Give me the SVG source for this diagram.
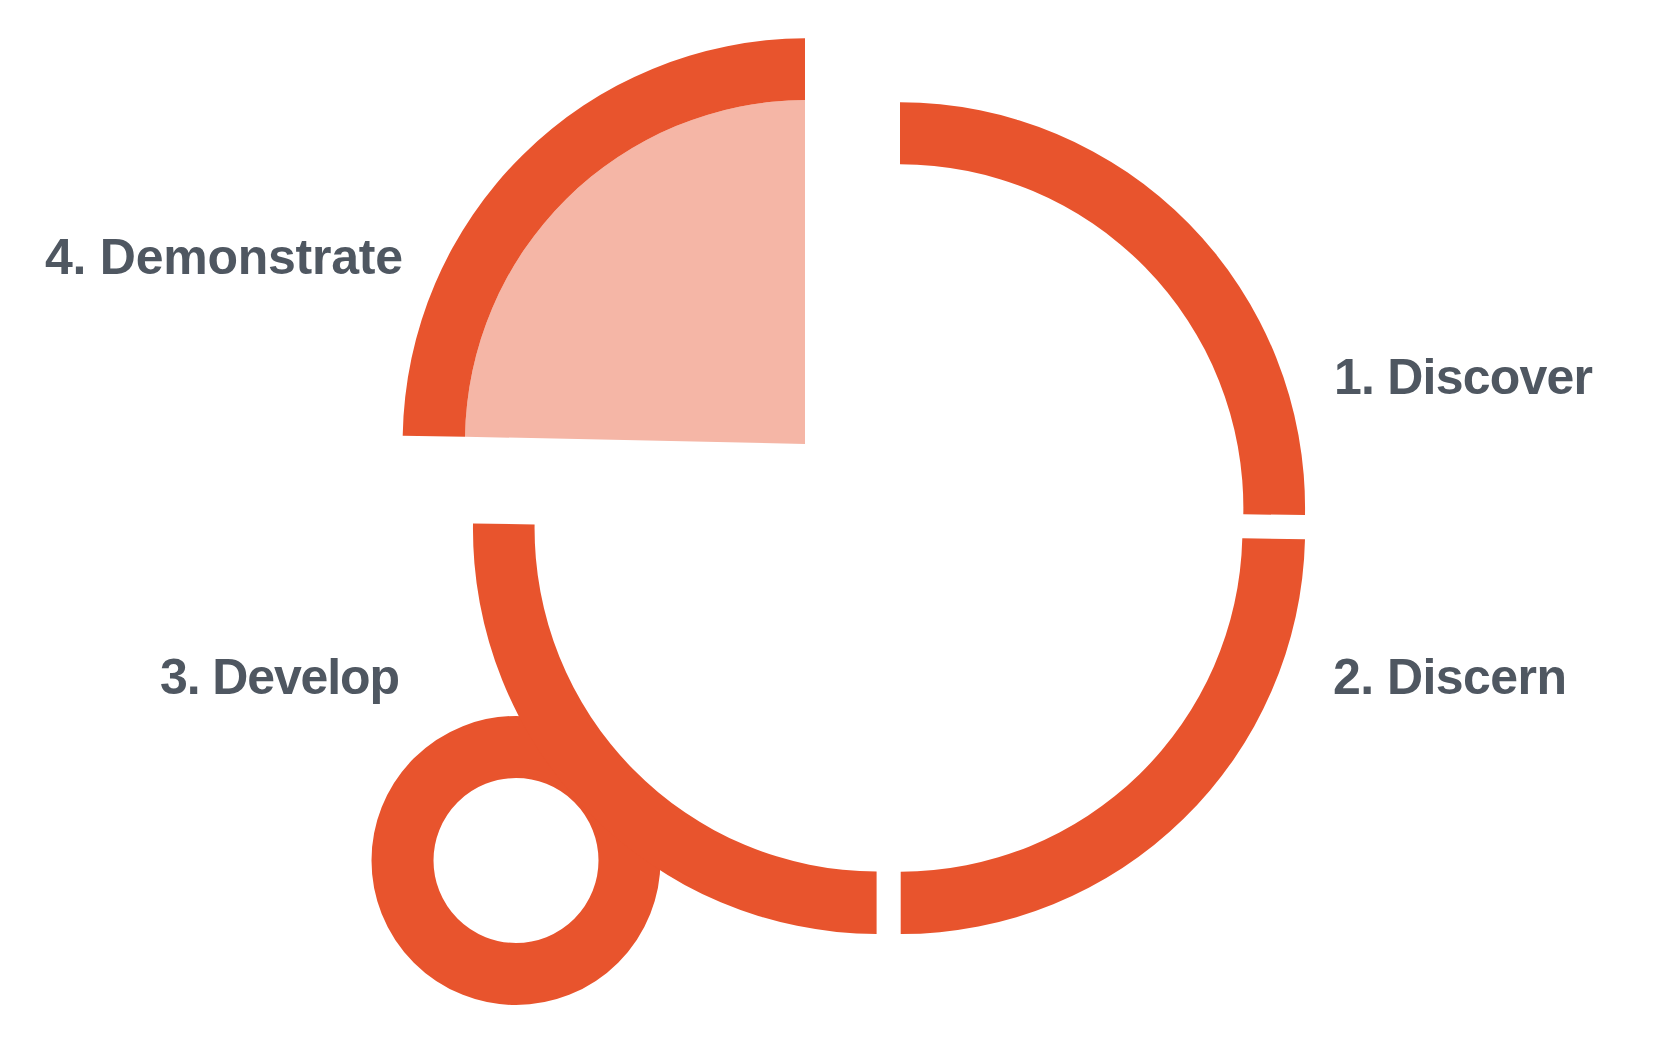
<svg xmlns="http://www.w3.org/2000/svg" width="1657" height="1037" viewBox="0 0 1657 1037">
  <style>
    .arc { fill: #E8542D; }
    .sector { fill: #F5B6A6; }
    .ring { fill: none; stroke: #E8542D; stroke-width: 62; }
    .label { font-family: "Liberation Sans", Arial, Helvetica, sans-serif; font-weight: bold; font-size: 50px; fill: #4F5761; }
  </style>
  <rect width="1657" height="1037" fill="#FFFFFF"/>

  <g id="node-discover">
    <path class="arc" d="M 900,102.3 A 405.5 405.5 0 0 1 1305,515 L 1243.3,514.3 A 343.5 343.5 0 0 0 900,164.3 Z"/>
    <text class="label" x="1334" y="394" textLength="259" lengthAdjust="spacing">1. Discover</text>
  </g>

  <g id="node-discern">
    <path class="arc" d="M 1305,539.3 A 404 404 0 0 1 900.7,934 L 900.7,871.7 A 342 342 0 0 0 1242.3,538.3 Z"/>
    <text class="label" x="1333" y="694" textLength="234" lengthAdjust="spacing">2. Discern</text>
  </g>

  <g id="node-develop">
    <circle class="ring" cx="516" cy="860.5" r="113.5"/>
    <path class="arc" d="M 876.6,934 A 405 405 0 0 1 473,523.4 L 534.6,524.4 A 343 343 0 0 0 876.6,871.6 Z"/>
    <text class="label" x="160" y="694" textLength="240" lengthAdjust="spacing">3. Develop</text>
  </g>

  <g id="node-demonstrate">
    <path class="sector" d="M 805,444 L 465,436.7 A 342 342 0 0 1 805,100 Z"/>
    <path class="arc" d="M 402.7,435.7 A 404 404 0 0 1 805,38.3 L 805,100 A 342 342 0 0 0 465,436.7 Z"/>
    <text class="label" x="45" y="274" textLength="358" lengthAdjust="spacing">4. Demonstrate</text>
  </g>
</svg>
